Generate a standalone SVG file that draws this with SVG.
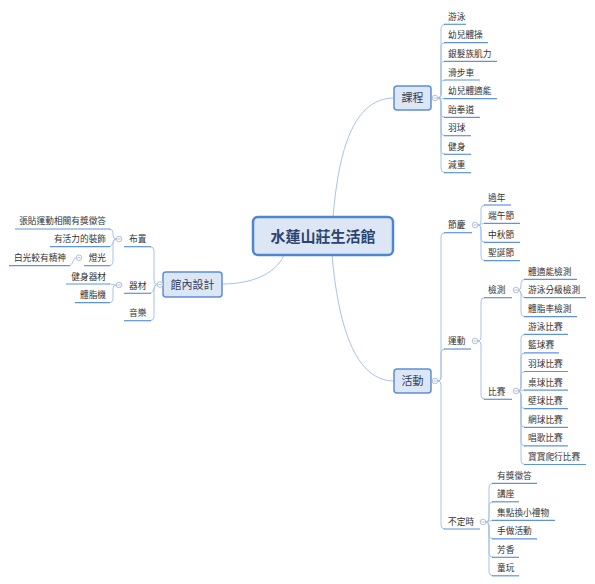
<svg xmlns="http://www.w3.org/2000/svg" width="595" height="584" viewBox="0 0 595 584">
<style>
.t{font-family:"Noto Sans CJK TC","Noto Sans CJK SC",sans-serif;font-size:8.7px;fill:#333}
.e{text-anchor:end}
.n{font-family:"Noto Sans CJK TC","Noto Sans CJK SC",sans-serif;font-size:11px;fill:#34405a;text-anchor:middle}
.box{fill:#dce6f4;stroke:#5b8fd8;stroke-width:1.5}
.cn{fill:none;stroke:#a7c2ea;stroke-width:1}
.ul{stroke:#5f93dc;stroke-width:1.2}
.col{fill:#fff;stroke:#a0b0c8;stroke-width:0.8}
.mn{stroke:#a0b0c8;stroke-width:0.8}
</style>
<rect width="595" height="584" fill="#fff"/>
<g id="connectors">
<path class="cn" d="M333,217 C338,160 350,98 394,98"/>
<path class="cn" d="M332,255 C337,310 350,381 394,381"/>
<path class="cn" d="M284,255 C275,275 250,284 222,284"/>
<path class="cn" d="M438,98 Q441,98 441,94 V28.3 Q441,24.3 445,24.3 M438,98 Q441,98 441,94 V46.7 Q441,42.7 445,42.7 M438,98 Q441,98 441,94 V65.3 Q441,61.3 445,61.3 M438,98 Q441,98 441,94 V84 Q441,80 445,80 M438,98 C441,98 441,98.7 445,98.7 M438,98 Q441,98 441,102 V113.3 Q441,117.3 445,117.3 M438,98 Q441,98 441,102 V131.7 Q441,135.7 445,135.7 M438,98 Q441,98 441,102 V150.3 Q441,154.3 445,154.3 M438,98 Q441,98 441,102 V168.7 Q441,172.7 445,172.7"/>
<path class="cn" d="M438,381 Q441,381 441,377 V236.7 Q441,232.7 445,232.7 M438,381 Q441,381 441,377 V353 Q441,349 445,349 M438,381 Q441,381 441,385 V525 Q441,529 445,529"/>
<path class="cn" d="M478,225 Q481,225 481,221 V209 Q481,205 485,205 M478,225 C481,225 481,223.3 485,223.3 M478,225 Q481,225 481,229 V238.3 Q481,242.3 485,242.3 M478,225 Q481,225 481,229 V256.7 Q481,260.7 485,260.7"/>
<path class="cn" d="M478,341 Q481,341 481,337 V301.7 Q481,297.7 485,297.7 M478,341 Q481,341 481,345 V395.3 Q481,399.3 485,399.3"/>
<path class="cn" d="M518,290 Q521,290 521,286 V283.3 Q521,279.3 525,279.3 M518,290 C521,290 521,297.7 525,297.7 M518,290 Q521,290 521,294 V312.7 Q521,316.7 525,316.7"/>
<path class="cn" d="M518,391 Q521,391 521,387 V338.3 Q521,334.3 525,334.3 M518,391 Q521,391 521,387 V356.9 Q521,352.9 525,352.9 M518,391 Q521,391 521,387 V375.5 Q521,371.5 525,371.5 M518,391 C521,391 521,390.1 525,390.1 M518,391 Q521,391 521,395 V404.7 Q521,408.7 525,408.7 M518,391 Q521,391 521,395 V423.3 Q521,427.3 525,427.3 M518,391 Q521,391 521,395 V441.9 Q521,445.9 525,445.9 M518,391 Q521,391 521,395 V460.5 Q521,464.5 525,464.5"/>
<path class="cn" d="M486,522 Q489,522 489,518 V487.3 Q489,483.3 493,483.3 M486,522 Q489,522 489,518 V505.8 Q489,501.8 493,501.8 M486,522 C489,522 489,520.3 493,520.3 M486,522 Q489,522 489,526 V534.8 Q489,538.8 493,538.8 M486,522 Q489,522 489,526 V553.3 Q489,557.3 493,557.3 M486,522 Q489,522 489,526 V571.8 Q489,575.8 493,575.8"/>
<path class="cn" d="M157,284.5 Q154,284.5 154,280.5 V250.7 Q154,246.7 150,246.7 M157,284.5 C154,284.5 154,293.3 150,293.3 M157,284.5 Q154,284.5 154,288.5 V316.7 Q154,320.7 150,320.7"/>
<path class="cn" d="M116,239 Q113,239 113,235 V233 Q113,229 109,229 M116,239 C113,239 113,246.7 109,246.7 M116,239 Q113,239 113,243 V261.7 Q113,265.7 109,265.7"/>
<path class="cn" d="M76,257.7 C73,257.7 73,265.7 69,265.7"/>
<path class="cn" d="M116,285 C113,285 113,284 109,284 M116,285 Q113,285 113,289 V298.7 Q113,302.7 109,302.7"/>
</g>
<g id="central">
<rect x="253" y="217" width="140" height="38" rx="5" fill="#dce6f4" stroke="#4f86d0" stroke-width="2.5"/>
<text x="323" y="241.5" text-anchor="middle" style="font-family:'Noto Sans CJK TC','Noto Sans CJK SC',sans-serif;font-size:15px;font-weight:bold;fill:#2d4470">水蓮山莊生活館</text>
</g>
<g id="n-kecheng">
<rect class="box" x="394" y="86" width="37" height="24" rx="3"/>
<text class="n" x="412.5" y="102">課程</text>
<circle class="col" cx="435" cy="98" r="2.8"/><line class="mn" x1="433.4" y1="98" x2="436.6" y2="98"/>
</g>
<g id="k1"><line class="ul" x1="444" y1="24.3" x2="466" y2="24.3"/><text class="t" x="448" y="19.8">游泳</text></g>
<g id="k2"><line class="ul" x1="444" y1="42.7" x2="488" y2="42.7"/><text class="t" x="448" y="38.2">幼兒體操</text></g>
<g id="k3"><line class="ul" x1="444" y1="61.3" x2="497" y2="61.3"/><text class="t" x="448" y="56.8">銀髮族肌力</text></g>
<g id="k4"><line class="ul" x1="444" y1="80" x2="480" y2="80"/><text class="t" x="448" y="75.5">滑步車</text></g>
<g id="k5"><line class="ul" x1="444" y1="98.7" x2="497" y2="98.7"/><text class="t" x="448" y="94.2">幼兒體適能</text></g>
<g id="k6"><line class="ul" x1="444" y1="117.3" x2="480" y2="117.3"/><text class="t" x="448" y="112.8">跆拳道</text></g>
<g id="k7"><line class="ul" x1="444" y1="135.7" x2="471" y2="135.7"/><text class="t" x="448" y="131.2">羽球</text></g>
<g id="k8"><line class="ul" x1="444" y1="154.3" x2="471" y2="154.3"/><text class="t" x="448" y="149.8">健身</text></g>
<g id="k9"><line class="ul" x1="444" y1="172.7" x2="471" y2="172.7"/><text class="t" x="448" y="168.2">減重</text></g>
<g id="n-huodong">
<rect class="box" x="394" y="369" width="37" height="24" rx="3"/>
<text class="n" x="412.5" y="385">活動</text>
<circle class="col" cx="435" cy="381" r="2.8"/><line class="mn" x1="433.4" y1="381" x2="436.6" y2="381"/>
</g>
<g id="n-jieqing"><line class="ul" x1="444" y1="232.7" x2="472" y2="232.7"/><text class="t" x="448" y="227.7">節慶</text>
<circle class="col" cx="475" cy="225" r="2.8"/><line class="mn" x1="473.4" y1="225" x2="476.6" y2="225"/></g>
<g id="j1"><line class="ul" x1="484" y1="205" x2="511" y2="205"/><text class="t" x="488" y="200.5">過年</text></g>
<g id="j2"><line class="ul" x1="484" y1="223.3" x2="520" y2="223.3"/><text class="t" x="488" y="218.8">端午節</text></g>
<g id="j3"><line class="ul" x1="484" y1="242.3" x2="520" y2="242.3"/><text class="t" x="488" y="237.8">中秋節</text></g>
<g id="j4"><line class="ul" x1="484" y1="260.7" x2="520" y2="260.7"/><text class="t" x="488" y="256.2">聖誕節</text></g>
<g id="n-yundong"><line class="ul" x1="444" y1="349" x2="471" y2="349"/><text class="t" x="448" y="344.3">運動</text>
<circle class="col" cx="475" cy="341" r="2.8"/><line class="mn" x1="473.4" y1="341" x2="476.6" y2="341"/></g>
<g id="n-jiance"><line class="ul" x1="484" y1="297.7" x2="512" y2="297.7"/><text class="t" x="488" y="293.3">檢測</text>
<circle class="col" cx="516" cy="290" r="2.8"/><line class="mn" x1="514.4" y1="290" x2="517.6" y2="290"/></g>
<g id="c1"><line class="ul" x1="524" y1="279.3" x2="577" y2="279.3"/><text class="t" x="528" y="274.8">體適能檢測</text></g>
<g id="c2"><line class="ul" x1="524" y1="297.7" x2="586" y2="297.7"/><text class="t" x="528" y="293.2">游泳分級檢測</text></g>
<g id="c3"><line class="ul" x1="524" y1="316.7" x2="577" y2="316.7"/><text class="t" x="528" y="312.2">體脂率檢測</text></g>
<g id="n-bisai"><line class="ul" x1="484" y1="399.3" x2="512" y2="399.3"/><text class="t" x="488" y="394.5">比賽</text>
<circle class="col" cx="516" cy="391" r="2.8"/><line class="mn" x1="514.4" y1="391" x2="517.6" y2="391"/></g>
<g id="b1"><line class="ul" x1="524" y1="334.3" x2="568" y2="334.3"/><text class="t" x="528" y="329.8">游泳比賽</text></g>
<g id="b2"><line class="ul" x1="524" y1="352.9" x2="559" y2="352.9"/><text class="t" x="528" y="348.4">籃球賽</text></g>
<g id="b3"><line class="ul" x1="524" y1="371.5" x2="568" y2="371.5"/><text class="t" x="528" y="367">羽球比賽</text></g>
<g id="b4"><line class="ul" x1="524" y1="390.1" x2="568" y2="390.1"/><text class="t" x="528" y="385.6">桌球比賽</text></g>
<g id="b5"><line class="ul" x1="524" y1="408.7" x2="568" y2="408.7"/><text class="t" x="528" y="404.2">壁球比賽</text></g>
<g id="b6"><line class="ul" x1="524" y1="427.3" x2="568" y2="427.3"/><text class="t" x="528" y="422.8">網球比賽</text></g>
<g id="b7"><line class="ul" x1="524" y1="445.9" x2="568" y2="445.9"/><text class="t" x="528" y="441.4">唱歌比賽</text></g>
<g id="b8"><line class="ul" x1="524" y1="464.5" x2="586" y2="464.5"/><text class="t" x="528" y="460">寶寶爬行比賽</text></g>
<g id="n-buding"><line class="ul" x1="444" y1="529" x2="480" y2="529"/><text class="t" x="448" y="524.5">不定時</text>
<circle class="col" cx="483" cy="522" r="2.8"/><line class="mn" x1="481.4" y1="522" x2="484.6" y2="522"/></g>
<g id="d1"><line class="ul" x1="492" y1="483.3" x2="537" y2="483.3"/><text class="t" x="497" y="478.8">有獎徵答</text></g>
<g id="d2"><line class="ul" x1="492" y1="501.8" x2="519" y2="501.8"/><text class="t" x="497" y="497.3">講座</text></g>
<g id="d3"><line class="ul" x1="492" y1="520.3" x2="555" y2="520.3"/><text class="t" x="497" y="515.8">集點換小禮物</text></g>
<g id="d4"><line class="ul" x1="492" y1="538.8" x2="537" y2="538.8"/><text class="t" x="497" y="534.3">手做活動</text></g>
<g id="d5"><line class="ul" x1="492" y1="557.3" x2="519" y2="557.3"/><text class="t" x="497" y="552.8">芳香</text></g>
<g id="d6"><line class="ul" x1="492" y1="575.8" x2="519" y2="575.8"/><text class="t" x="497" y="571.3">童玩</text></g>
<g id="n-guannei">
<rect class="box" x="163" y="272" width="59" height="25" rx="3"/>
<text class="n" x="192.5" y="288.5">館內設計</text>
<circle class="col" cx="160" cy="284.5" r="2.8"/><line class="mn" x1="158.4" y1="284.5" x2="161.6" y2="284.5"/>
</g>
<g id="n-buzhi"><line class="ul" x1="124" y1="246.7" x2="151" y2="246.7"/><text class="t" x="129" y="242.3">布置</text>
<circle class="col" cx="119" cy="239" r="2.8"/><line class="mn" x1="117.4" y1="239" x2="120.6" y2="239"/></g>
<g id="z1"><line class="ul" x1="15" y1="229" x2="110" y2="229"/><text class="t e" x="106" y="224.4">張貼運動相關有獎徵答</text></g>
<g id="z2"><line class="ul" x1="50" y1="246.7" x2="110" y2="246.7"/><text class="t e" x="106" y="242.2">有活力的裝飾</text></g>
<g id="n-dengguang"><line class="ul" x1="84" y1="265.7" x2="110" y2="265.7"/><text class="t e" x="106" y="261.2">燈光</text>
<circle class="col" cx="79" cy="257.7" r="2.8"/><line class="mn" x1="77.4" y1="257.7" x2="80.6" y2="257.7"/></g>
<g id="z3"><line class="ul" x1="9" y1="265.7" x2="70" y2="265.7"/><text class="t e" x="66" y="261.2">白光較有精神</text></g>
<g id="n-qicai"><line class="ul" x1="124" y1="293.3" x2="151" y2="293.3"/><text class="t" x="129" y="288.6">器材</text>
<circle class="col" cx="119" cy="285" r="2.8"/><line class="mn" x1="117.4" y1="285" x2="120.6" y2="285"/></g>
<g id="q1"><line class="ul" x1="66" y1="284" x2="110" y2="284"/><text class="t e" x="106" y="279.5">健身器材</text></g>
<g id="q2"><line class="ul" x1="75" y1="302.7" x2="110" y2="302.7"/><text class="t e" x="106" y="298.2">體脂機</text></g>
<g id="n-yinyue"><line class="ul" x1="124" y1="320.7" x2="151" y2="320.7"/><text class="t" x="129" y="316.3">音樂</text></g>
</svg>
